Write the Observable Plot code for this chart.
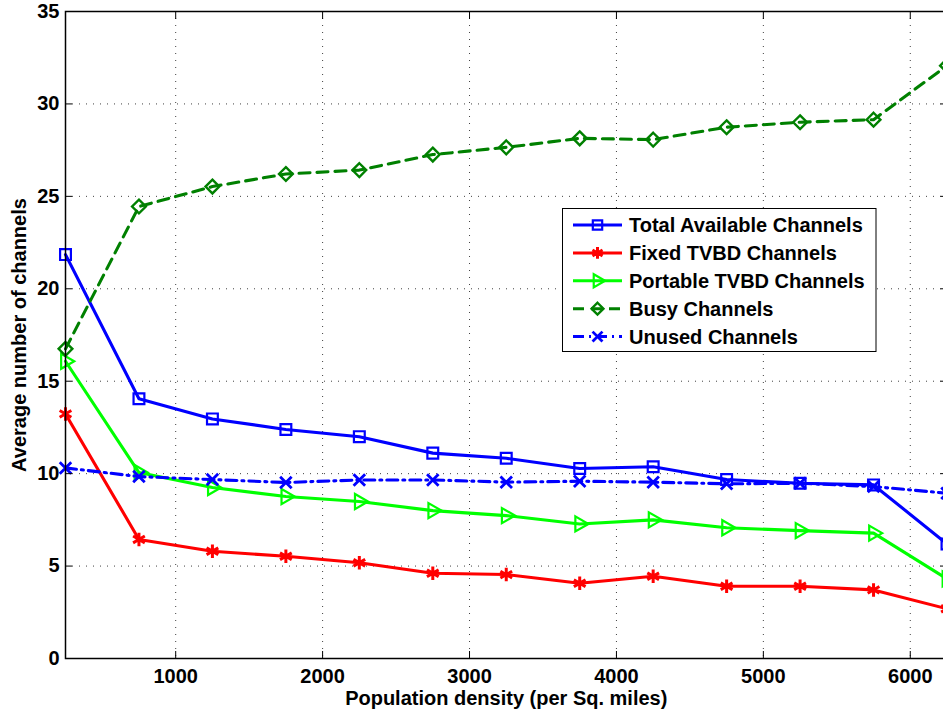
<!DOCTYPE html>
<html><head><meta charset="utf-8">
<script src="https://cdn.jsdelivr.net/npm/d3@7"></script>
<script src="https://cdn.jsdelivr.net/npm/@observablehq/plot@0.6"></script>
<style>
body{margin:0;background:#fff}
#chart{position:relative;width:943px;height:713px;overflow:hidden}
</style>
</head><body><div id="chart"></div>
<script>
const density = [250, 750, 1250, 1750, 2250, 2750, 3250, 3750, 4250, 4750, 5250, 5750, 6250];
const totalAvailable = [21.85, 14.05, 12.96, 12.39, 12.0, 11.11, 10.83, 10.28, 10.37, 9.68, 9.48, 9.39, 6.2];
const fixedTVBD = [13.23, 6.44, 5.8, 5.53, 5.18, 4.61, 4.54, 4.07, 4.45, 3.91, 3.91, 3.71, 2.69];
const portableTVBD = [16.08, 10.06, 9.25, 8.76, 8.49, 8.0, 7.73, 7.28, 7.5, 7.07, 6.92, 6.78, 4.31];
const busy = [16.75, 24.45, 25.53, 26.21, 26.42, 27.26, 27.65, 28.14, 28.07, 28.74, 29.01, 29.15, 32.07];
const unused = [10.31, 9.84, 9.68, 9.52, 9.66, 9.66, 9.54, 9.59, 9.54, 9.45, 9.48, 9.3, 8.94];
const seriesNames = ["Total Available Channels", "Fixed TVBD Channels", "Portable TVBD Channels", "Busy Channels", "Unused Channels"];
const xTicks = [1000, 2000, 3000, 4000, 5000, 6000];
const yTicks = [0, 5, 10, 15, 20, 25, 30, 35];
const xLabel = "Population density (per Sq. miles)";
const yLabel = "Average number of channels";

const styles = [
  {color: "#0000ff", symbol: "square", r: 6.1, rotate: 0, dash: null, sw: 2.2},
  {color: "#ff0000", symbol: "asterisk", r: 6.4, rotate: 0, dash: null, sw: 3},
  {color: "#00ff00", symbol: "triangle", r: 5.6, rotate: 90, dash: null, sw: 2.2},
  {color: "#008000", symbol: "diamond2", r: 6.2, rotate: 0, dash: "11,7", sw: 2.4},
  {color: "#0000ff", symbol: "times", r: 5.3, rotate: 0, dash: "11,5,2,5", sw: 2.8}
];
const valuesList = [totalAvailable, fixedTVBD, portableTVBD, busy, unused];

const FONT = "'Liberation Sans', Arial, Helvetica, sans-serif";
const fmt = d => String(d);

const marks = [
  Plot.gridX(xTicks, {stroke: "#000", strokeOpacity: 0.75, strokeDasharray: "1,6"}),
  Plot.gridY(yTicks, {stroke: "#000", strokeOpacity: 0.75, strokeDasharray: "1,6"}),
];
valuesList.forEach((vals, si) => {
  const st = styles[si];
  const data = vals.map((v, i) => ({x: density[i], y: v}));
  marks.push(Plot.line(data, {x: "x", y: "y", stroke: st.color, strokeWidth: 3.1,
    strokeDasharray: st.dash, strokeLinejoin: "round"}));
  marks.push(Plot.dot(data, {x: "x", y: "y", symbol: () => st.symbol, r: st.r, stroke: st.color,
    strokeWidth: st.sw, fill: "none", rotate: st.rotate}));
});
marks.push(
  Plot.frame({stroke: "#000", strokeWidth: 1.5}),
  Plot.axisX(xTicks, {anchor: "bottom", tickSize: 0, tickPadding: 10, label: null, tickFormat: fmt, fontSize: 20, fontWeight: "bold", fill: "#000"}),
  Plot.axisX(xTicks, {anchor: "bottom", tickSize: -7, text: null, label: null, stroke: "#000"}),
  Plot.axisX(xTicks, {anchor: "top", tickSize: -7, text: null, label: null, stroke: "#000"}),
  Plot.axisY(yTicks, {anchor: "left", tickSize: 0, tickPadding: 6, label: null, tickFormat: fmt, fontSize: 20, fontWeight: "bold", fill: "#000"}),
  Plot.axisY(yTicks, {anchor: "left", tickSize: -7, text: null, label: null, stroke: "#000"}),
  Plot.axisY(yTicks, {anchor: "right", tickSize: -7, text: null, label: null, stroke: "#000"}),
  Plot.text([xLabel], {frameAnchor: "bottom", dy: 46, text: d => d, textAnchor: "middle", fontSize: 20, fontWeight: "bold", fill: "#000"}),
  Plot.text([yLabel], {frameAnchor: "left", dx: -46, rotate: -90, text: d => d, textAnchor: "middle", lineAnchor: "middle", fontSize: 20, fontWeight: "bold", fill: "#000"})
);

const chart = Plot.plot({
  width: 943,
  height: 713,
  marginLeft: 65,
  marginRight: -3.5,
  marginTop: 11,
  marginBottom: 55,
  style: {fontFamily: FONT, color: "#000", background: "#fff", overflow: "hidden"},
  x: {domain: [250, 6250]},
  y: {domain: [0, 35]},
  marks
});

// Legend (inside plot area)
const svg = d3.select(chart);
const lg = svg.append("g").attr("font-family", FONT).attr("text-anchor", "start");
const lx = 562.5, ly = 208.5, lw = 313.5, lh = 143;
lg.append("rect").attr("x", lx).attr("y", ly).attr("width", lw).attr("height", lh)
  .attr("fill", "#fff").attr("stroke", "#000").attr("stroke-width", 1);
const symMap = {square: d3.symbolSquare, asterisk: d3.symbolAsterisk, triangle: d3.symbolTriangle,
  diamond2: d3.symbolDiamond2, times: d3.symbolTimes};
seriesNames.forEach((name, i) => {
  const st = styles[i];
  const cy = 225 + i * 27.9;
  lg.append("line").attr("x1", 573).attr("x2", 622).attr("y1", cy).attr("y2", cy)
    .attr("stroke", st.color).attr("stroke-width", 3)
    .attr("stroke-dasharray", st.dash);
  lg.append("path")
    .attr("d", d3.symbol(symMap[st.symbol], Math.PI * st.r * st.r * 0.75)())
    .attr("transform", `translate(597.5,${cy}) rotate(${st.rotate})`)
    .attr("fill", "none").attr("stroke", st.color).attr("stroke-width", st.sw);
  lg.append("text").attr("x", 629).attr("y", cy).attr("dy", "0.35em")
    .attr("font-size", 20).attr("font-weight", "bold").attr("fill", "#000").text(name);
});

document.getElementById("chart").appendChild(chart);
</script>
</body></html>
